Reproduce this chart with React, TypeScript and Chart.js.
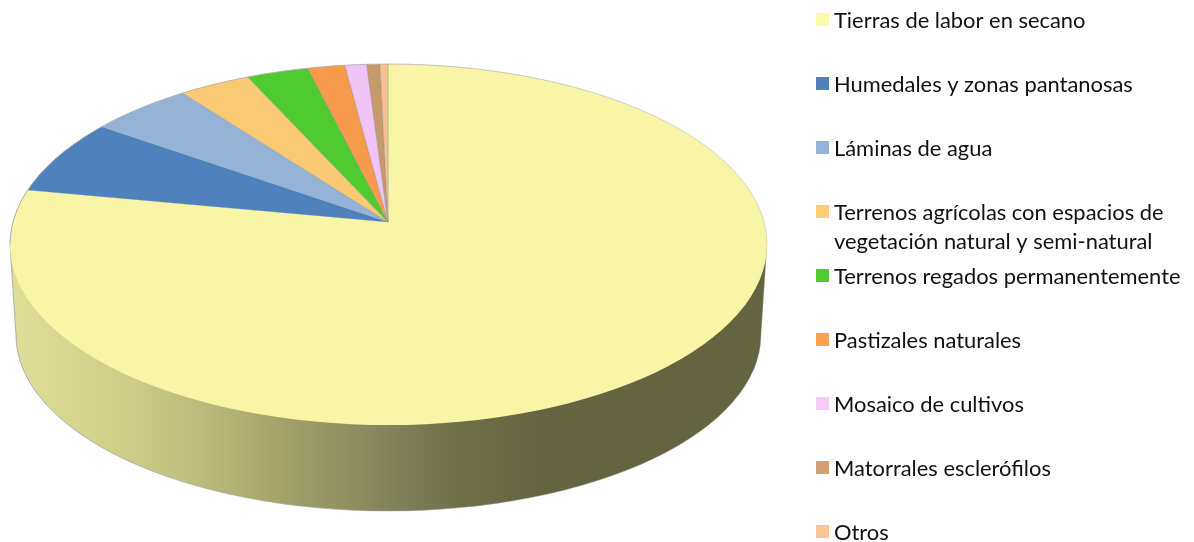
import React, { useEffect, useRef } from "react";
import { Chart, registerables } from "chart.js";

Chart.register(...registerables);

const categories = [
  "Tierras de labor en secano",
  "Humedales y zonas pantanosas",
  "Láminas de agua",
  "Terrenos agrícolas con espacios de vegetación natural y semi-natural",
  "Terrenos regados permanentemente",
  "Pastizales naturales",
  "Mosaico de cultivos",
  "Matorrales esclerófilos",
  "Otros",
];
const legendLines = [
  ["Tierras de labor en secano"],
  ["Humedales y zonas pantanosas"],
  ["Láminas de agua"],
  ["Terrenos agrícolas con espacios de", "vegetación natural y semi-natural"],
  ["Terrenos regados permanentemente"],
  ["Pastizales naturales"],
  ["Mosaico de cultivos"],
  ["Matorrales esclerófilos"],
  ["Otros"],
];
const shares = [77.97, 6.83, 4.97, 3.44, 2.96, 1.78, 1.04, 0.63, 0.38];
const sliceColors = ["#F8F6A6", "#4F81BD", "#95B3D7", "#FAC973", "#4FCB30", "#F79A4C", "#F0C4F5", "#C79A6B", "#FAC090"];
const legendColors = ["#FBFBA9", "#4F81BD", "#95B3D7", "#FFCC77", "#4FCB30", "#FF9F50", "#F7CBF7", "#CFA071", "#FCC598"];
const sideStops: [number, string][] = [
  [16, "#DEDE98"],
  [130, "#CDCD88"],
  [200, "#BCBC7C"],
  [290, "#A0A068"],
  [400, "#808058"],
  [470, "#6E6E46"],
  [540, "#646441"],
  [761, "#646441"],
];

const TOP = { cx: 388.5, cy: 244.5, rx: 378.5, ry: 180.5 };
const BOTTOM = { cx: 388.5, cy: 335, rx: 372.5, ry: 176 };
const APEX = { x: 388, y: 222 };
const TILT = 0.47;
const REACH = 470;

const piePerspective = {
  id: "piePerspective",
  beforeDatasetsDraw(chart: any) {
    const { ctx } = chart;
    const arc = chart.getDatasetMeta(0).data[0];
    // side wall
    ctx.save();
    const grad = ctx.createLinearGradient(16, 0, 761, 0);
    sideStops.forEach(([x, c]) => grad.addColorStop((x - 16) / 745, c));
    ctx.beginPath();
    ctx.moveTo(TOP.cx - TOP.rx, TOP.cy);
    ctx.lineTo(BOTTOM.cx - BOTTOM.rx, BOTTOM.cy);
    ctx.ellipse(BOTTOM.cx, BOTTOM.cy, BOTTOM.rx, BOTTOM.ry, 0, Math.PI, 0, true);
    ctx.lineTo(TOP.cx + TOP.rx, TOP.cy);
    ctx.closePath();
    ctx.fillStyle = grad;
    ctx.fill();
    const edge = ctx.createLinearGradient(10, 0, 767, 0);
    edge.addColorStop(0, "rgba(160,160,160,0.8)");
    edge.addColorStop(0.55, "rgba(160,160,160,0.5)");
    edge.addColorStop(1, "rgba(180,180,180,0.3)");
    ctx.strokeStyle = edge;
    ctx.lineWidth = 1;
    ctx.stroke();
    ctx.restore();
    // top face
    ctx.save();
    ctx.beginPath();
    ctx.ellipse(TOP.cx, TOP.cy, TOP.rx, TOP.ry, 0, 0, Math.PI * 2);
    ctx.clip();
    const s = REACH / arc.outerRadius;
    ctx.translate(APEX.x, APEX.y);
    ctx.scale(s, s * TILT);
    ctx.translate(-arc.x, -arc.y);
  },
  afterDatasetsDraw(chart: any) {
    const { ctx } = chart;
    ctx.restore();
    ctx.save();
    const edge = ctx.createLinearGradient(10, 0, 767, 0);
    edge.addColorStop(0, "rgba(165,165,165,0.9)");
    edge.addColorStop(0.6, "rgba(175,175,175,0.7)");
    edge.addColorStop(1, "rgba(190,190,190,0.6)");
    ctx.beginPath();
    ctx.ellipse(TOP.cx, TOP.cy, TOP.rx, TOP.ry, 0, Math.PI, 0);
    ctx.strokeStyle = edge;
    ctx.lineWidth = 1;
    ctx.stroke();
    ctx.restore();
  },
  afterDraw(chart: any) {
    const { ctx } = chart;
    ctx.save();
    ctx.font = "21.9px Lato, Carlito, sans-serif";
    ctx.textBaseline = "alphabetic";
    legendLines.forEach((lines, i) => {
      ctx.fillStyle = legendColors[i];
      ctx.fillRect(816, 13 + 64 * i, 13, 13);
      ctx.fillStyle = "#111111";
      lines.forEach((t, j) => ctx.fillText(t, 834, 28 + 64 * i + j * 29));
    });
    ctx.restore();
  },
};

export default function App() {
  const ref = useRef<HTMLCanvasElement>(null);
  useEffect(() => {
    document.body.style.margin = "0";
    const chart = new Chart(ref.current!, {
      type: "pie",
      data: {
        labels: categories,
        datasets: [
          {
            data: shares,
            backgroundColor: sliceColors,
            borderColor: "rgba(120,135,140,0.3)",
            borderWidth: 0.6,
            clip: false,
          } as any,
        ],
      },
      options: {
        responsive: false,
        animation: false,
        rotation: 0,
        layout: { padding: 0 },
        plugins: { legend: { display: false }, tooltip: { enabled: false } },
      },
      plugins: [piePerspective],
    });
    return () => chart.destroy();
  }, []);
  return (
    <div style={{ width: 1194, height: 542, background: "#fff" }}>
      <canvas ref={ref} width={1194} height={542} style={{ display: "block" }} />
    </div>
  );
}
